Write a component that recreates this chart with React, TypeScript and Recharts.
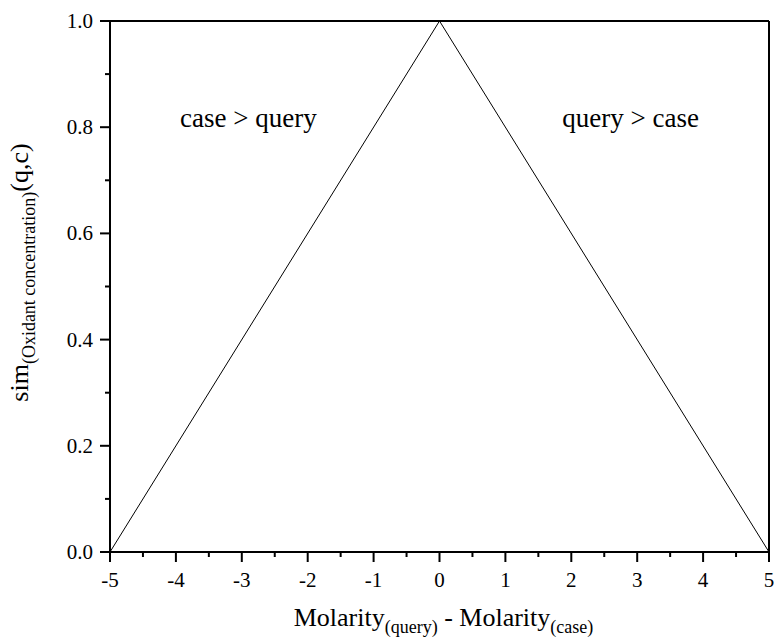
import { LineChart, Line, XAxis, YAxis, ReferenceLine, ReferenceDot, Label } from 'recharts';

// difference in molarity between query and case
const molarityDiff = [-5, 0, 5];
const simValues = [0, 1, 0];

const xTicks = [-5, -4.5, -4, -3.5, -3, -2.5, -2, -1.5, -1, -0.5, 0, 0.5, 1, 1.5, 2, 2.5, 3, 3.5, 4, 4.5, 5];
const yTicks = [0, 0.1, 0.2, 0.3, 0.4, 0.5, 0.6, 0.7, 0.8, 0.9, 1.0];

const regionLabels = [
  { text: 'case > query', x: -2.9, y: 0.8 },
  { text: 'query > case', x: 2.9, y: 0.8 },
];

const data = molarityDiff.map((d, i) => ({ diff: d, sim: simValues[i] }));

const FONT = '"Liberation Serif", "Times New Roman", serif';

const XTick = (props: any) => {
  const { x, y, payload } = props;
  const v = payload.value;
  const major = Number.isInteger(v);
  return (
    <g>
      <line x1={x} x2={x} y1={y} y2={y + (major ? 10 : 5)} stroke="#000" strokeWidth={2} />
      {major && (
        <text x={x} y={y + 35} textAnchor="middle" fontSize={21} fontFamily={FONT} fill="#000">
          {v}
        </text>
      )}
    </g>
  );
};

const YTick = (props: any) => {
  const { x, y, payload } = props;
  const v = payload.value;
  const major = Math.round(v * 10) % 2 === 0;
  return (
    <g>
      <line x1={x} x2={x - (major ? 10 : 5)} y1={y} y2={y} stroke="#000" strokeWidth={2} />
      {major && (
        <text x={x - 17} y={y + 7} textAnchor="end" fontSize={21} fontFamily={FONT} fill="#000">
          {v.toFixed(1)}
        </text>
      )}
    </g>
  );
};

const XTitle = (props: any) => {
  const { x, y, width } = props.viewBox;
  return (
    <text x={x + width / 2 + 4} y={y + 74} textAnchor="middle" fontFamily={FONT} fontSize={26} fill="#000">
      <tspan>Molarity</tspan>
      <tspan fontSize={18} dy={7}>(query)</tspan>
      <tspan dy={-7}> - Molarity</tspan>
      <tspan fontSize={18} dy={7}>(case)</tspan>
    </text>
  );
};

const YTitle = (props: any) => {
  const { y, height } = props.viewBox;
  const cx = 28;
  const cy = y + height / 2 - 14;
  return (
    <text
      x={cx}
      y={cy}
      transform={`rotate(-90, ${cx}, ${cy})`}
      textAnchor="middle"
      fontFamily={FONT}
      fontSize={26}
      fill="#000"
    >
      <tspan>sim</tspan>
      <tspan fontSize={18} dy={7}>(Oxidant concentration)</tspan>
      <tspan dy={-7}>(q,c)</tspan>
    </text>
  );
};

export default function App() {
  return (
    <div style={{ position: 'absolute', left: 0, top: 0, background: '#fff' }}>
      <LineChart width={774} height={639} data={data} margin={{ top: 21, right: 5, bottom: 0, left: 0 }}>
        <XAxis
          dataKey="diff"
          type="number"
          domain={[-5, 5]}
          ticks={xTicks}
          interval={0}
          tick={<XTick />}
          tickLine={false}
          tickSize={0}
          tickMargin={0}
          height={87}
          axisLine={{ stroke: '#000', strokeWidth: 2 }}
        >
          <Label content={<XTitle />} />
        </XAxis>
        <YAxis
          type="number"
          domain={[0, 1]}
          ticks={yTicks}
          interval={0}
          tick={<YTick />}
          tickLine={false}
          tickSize={0}
          tickMargin={0}
          width={110}
          axisLine={{ stroke: '#000', strokeWidth: 2 }}
        >
          <Label content={<YTitle />} />
        </YAxis>
        <ReferenceLine y={1} stroke="#000" strokeWidth={2} />
        <ReferenceLine x={5} stroke="#000" strokeWidth={2} />
        <Line
          type="linear"
          dataKey="sim"
          stroke="#000"
          strokeWidth={1}
          dot={false}
          isAnimationActive={false}
        />
        {regionLabels.map((r) => (
          <ReferenceDot
            key={r.text}
            x={r.x}
            y={r.y}
            r={0}
            shape={(p: any) => (
              <text x={p.cx} y={p.cy} textAnchor="middle" fontFamily={FONT} fontSize={27} fill="#000">
                {r.text}
              </text>
            )}
          />
        ))}
      </LineChart>
    </div>
  );
}
